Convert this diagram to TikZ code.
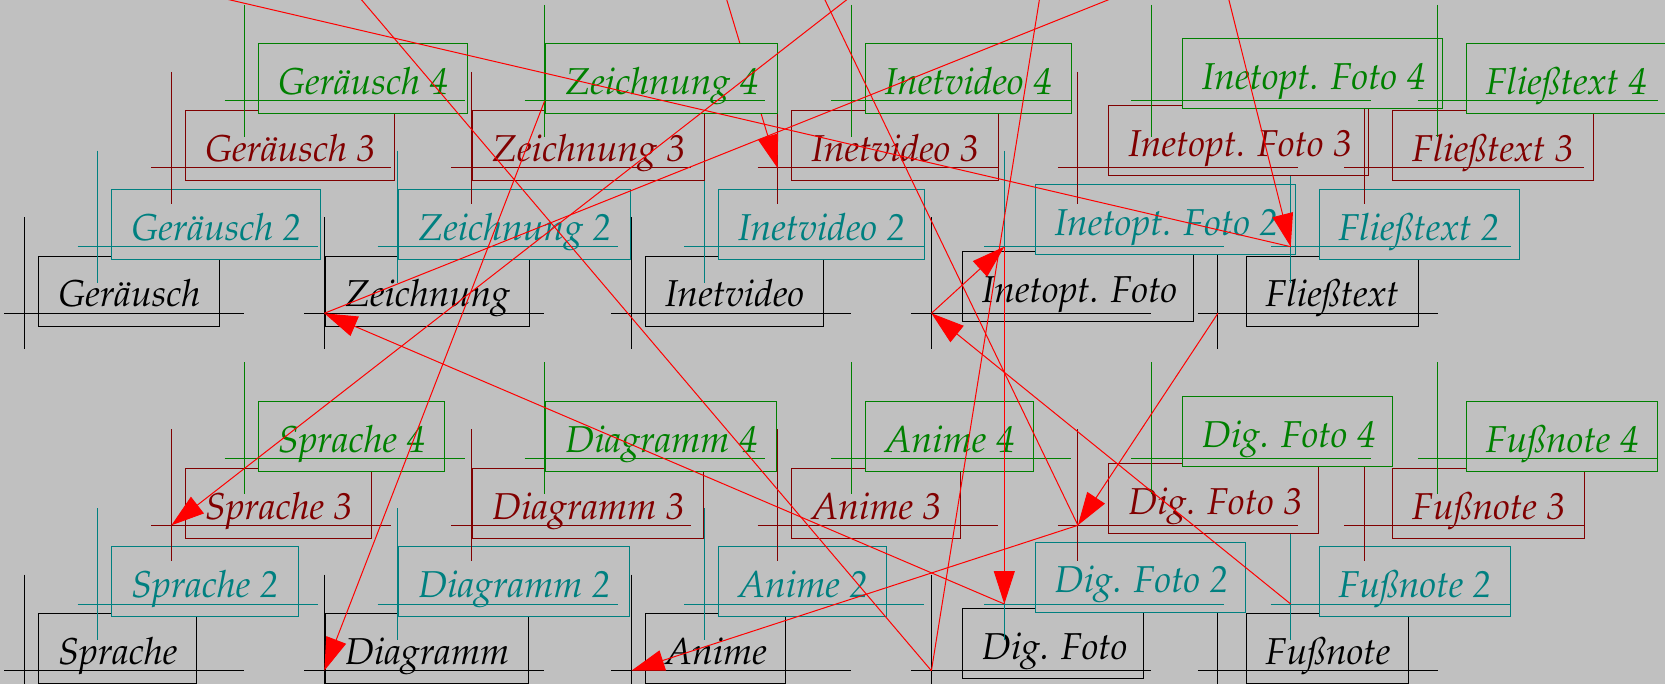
\documentclass[tikz,border=0pt]{standalone}
\usepackage[T1]{fontenc}
\usepackage{mathpazo}
\usetikzlibrary{arrows.meta}
\definecolor{bgc}{RGB}{192,192,192}
\definecolor{tealc}{RGB}{0,128,128}
\definecolor{dredc}{RGB}{128,0,0}
\definecolor{greenc}{RGB}{0,128,0}
\definecolor{redc}{RGB}{255,0,0}
\newcommand\gitem[8]{%
  \pgfmathsetmacro\gbw{#6*0.5}%
  \node[itembox, draw=#7, text=#7, minimum width=\gbw pt, anchor=south west] (#1) at ({#2+#4},{#3+#5}) {\hbox to \gbw pt{\hskip9.8pt #8\hfil}};
  \coordinate (#1c) at (#2,#3);
  \draw[hair,#7] ({#2-20},#3) -- ({#2+220},#3) (#2,{#3-96}) -- (#2,{#3+36});
}
\begin{document}
\begin{tikzpicture}[x=0.5pt,y=-0.5pt,
  itembox/.style={rectangle, fill=bgc, line width=0.5pt, inner sep=0pt,
    text height=25.4pt, text depth=9.6pt,
    font=\fontsize{18.7}{21}\selectfont\itshape},
  hair/.style={line width=0.5pt},
  conn/.style={draw=redc, line width=0.5pt},
  head/.style={-{Triangle[length=16.5pt,width=10.5pt]}}]
\useasboundingbox (0,0) rectangle (1665,684);
\fill[bgc] (0,0) rectangle (1665,684);
\clip (0,0) rectangle (1665,684);
% layer 1
\gitem{a11}{24.3}{313.3}{13.9}{13.4}{180.4}{black}{Ger\"ausch}
\gitem{a21}{324.3}{313.3}{0.7}{13.4}{204}{black}{Zeichnung}
\gitem{a31}{631.4}{313.3}{13.5}{13.4}{178.3}{black}{Inetvideo}
\gitem{a41}{931.4}{313.3}{30.4}{8.4}{231.4}{black}{Inetopt. Foto}
\gitem{a51}{1217.9}{313.3}{27.7}{13.4}{172.1}{black}{Flie\ss text}
\gitem{b11}{24.3}{670.7}{13.9}{13.4}{158.2}{black}{Sprache}
\gitem{b21}{324.3}{670.7}{0.7}{13.4}{202.9}{black}{Diagramm}
\gitem{b31}{631.4}{670.7}{13.5}{13.4}{140.4}{black}{Anime}
\gitem{b41}{931.4}{670.7}{30.4}{8.6}{181.4}{black}{Dig. Foto}
\gitem{b51}{1217.9}{670.7}{27.7}{13.4}{162.8}{black}{Fu\ss note}
% layer 2
\gitem{a12}{97.5}{246.7}{13.7}{13.4}{209.2}{tealc}{Ger\"ausch 2}
\gitem{a22}{397.5}{246.7}{0.7}{13.4}{231.8}{tealc}{Zeichnung 2}
\gitem{a32}{704.3}{246.7}{13.7}{13.4}{206.4}{tealc}{Inetvideo 2}
\gitem{a42}{1004.3}{246.7}{30.3}{8.4}{259.9}{tealc}{Inetopt. Foto 2}
\gitem{a52}{1290.7}{246.7}{27.8}{13.4}{200.8}{tealc}{Flie\ss text 2}
\gitem{b12}{97.5}{604}{13.7}{13.4}{186.5}{tealc}{Sprache 2}
\gitem{b22}{397.5}{604}{0.7}{13.4}{231}{tealc}{Diagramm 2}
\gitem{b32}{704.3}{604}{13.7}{13.4}{168.4}{tealc}{Anime 2}
\gitem{b42}{1004.3}{604}{30.3}{8.6}{210.1}{tealc}{Dig. Foto 2}
\gitem{b52}{1290.7}{604}{27.8}{13.4}{191.4}{tealc}{Fu\ss note 2}
% layer 3
\gitem{a13}{171.4}{168}{13.5}{13.4}{209.2}{dredc}{Ger\"ausch 3}
\gitem{a23}{471.4}{168}{0.7}{13.4}{231.8}{dredc}{Zeichnung 3}
\gitem{a33}{777.5}{168}{13.7}{13.4}{206.4}{dredc}{Inetvideo 3}
\gitem{a43}{1077.9}{168}{30.3}{8.4}{259.9}{dredc}{Inetopt. Foto 3}
\gitem{a53}{1364.3}{168}{27.8}{13.4}{200.8}{dredc}{Flie\ss text 3}
\gitem{b13}{171.4}{525.3}{13.5}{13.4}{186.5}{dredc}{Sprache 3}
\gitem{b23}{471.4}{525.3}{0.7}{13.4}{231}{dredc}{Diagramm 3}
\gitem{b33}{777.5}{525.3}{13.7}{13.4}{168.4}{dredc}{Anime 3}
\gitem{b43}{1077.9}{525.3}{30.3}{8.6}{210.1}{dredc}{Dig. Foto 3}
\gitem{b53}{1364.3}{525.3}{27.8}{13.4}{191.4}{dredc}{Fu\ss note 3}
% connector hidden under the top layer
\coordinate (oc) at (708.7,-60);
\draw[conn,head] (oc) -- (a33c);
% layer 4
\gitem{a14}{244.6}{101}{13.3}{13.4}{209.2}{greenc}{Ger\"ausch 4}
\gitem{a24}{544.6}{101}{0.7}{13.4}{231.8}{greenc}{Zeichnung 4}
\gitem{a34}{851}{101}{13.5}{13.4}{206.4}{greenc}{Inetvideo 4}
\gitem{a44}{1151.4}{101}{30.4}{8.4}{259.9}{greenc}{Inetopt. Foto 4}
\gitem{a54}{1437.9}{101}{27.8}{13.4}{200.8}{greenc}{Flie\ss text 4}
\gitem{b14}{244.6}{458.3}{13.3}{13.4}{186.5}{greenc}{Sprache 4}
\gitem{b24}{544.6}{458.3}{0.7}{13.4}{231}{greenc}{Diagramm 4}
\gitem{b34}{851}{458.3}{13.5}{13.4}{168.4}{greenc}{Anime 4}
\gitem{b44}{1151.4}{458.3}{30.4}{8.6}{210.1}{greenc}{Dig. Foto 4}
\gitem{b54}{1437.9}{458.3}{27.8}{13.4}{191.4}{greenc}{Fu\ss note 4}
% connectors
\coordinate (o1) at (-27.5,-60);
\coordinate (o3) at (1049,-60);
\coordinate (o7) at (796.1,-60);
\coordinate (o12) at (923.5,-60);
\coordinate (r0z) at (324.3,-44);
\coordinate (r0f) at (1217.9,-44);
\draw[conn] (o1) -- (a52c);
\draw[conn,head] (r0f) -- (a52c);
\draw[conn] (r0z) -- (b41c);
\draw[conn] (b41c) -- (o3);
\draw[conn,head] (a41c) -- (a42c);
\draw[conn,head] (a42c) -- (b42c);
\draw[conn,head] (b52c) -- (a41c);
\draw[conn] (o7) -- (b43c);
\draw[conn,head] (a51c) -- (b43c);
\draw[conn,head] (b43c) -- (b31c);
\draw[conn,head] (b42c) -- (a21c);
\draw[conn] (a21c) -- (r0f);
\draw[conn,head] (o12) -- (b13c);
\draw[conn,head] (a24c) -- (b21c);
\end{tikzpicture}
\end{document}
